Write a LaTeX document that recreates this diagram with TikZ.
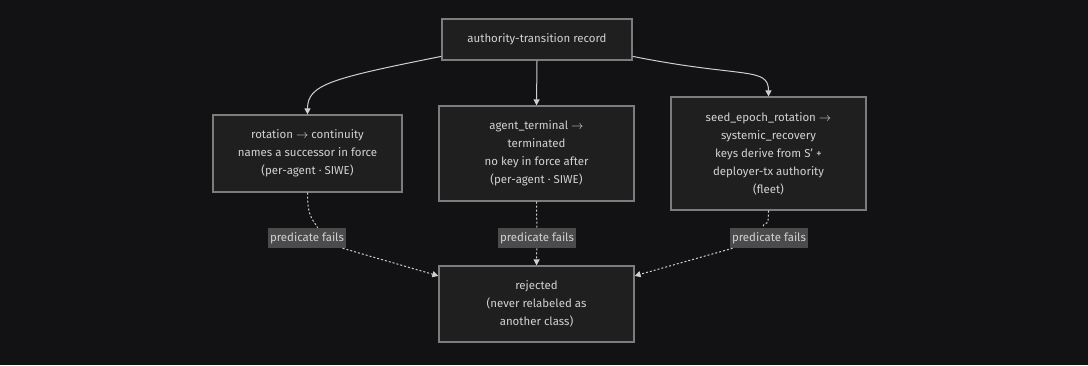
\documentclass[tikz,border=0pt]{standalone}
\usepackage{fontspec}
\setmainfont{Fira Sans}
\usetikzlibrary{arrows.meta}
\definecolor{bgdark}{HTML}{121214}
\definecolor{boxfill}{HTML}{1F1F1F}
\definecolor{boxline}{HTML}{7C7C7C}
\definecolor{inktext}{HTML}{D2D2D2}
\definecolor{edgeink}{HTML}{CFCFCF}
\definecolor{lblfill}{HTML}{4B4B4B}
\newcommand{\goesto}{$\rightarrow$}

\begin{document}
\begin{tikzpicture}[x=0.75pt,y=-0.75pt,>={Triangle[length=4.5pt,width=4.5pt]},
    state/.style={draw=boxline,fill=boxfill,line width=0.9pt,text=inktext,
      align=center,font=\fontsize{8.6}{13.5}\selectfont,inner sep=0pt},
    flow/.style={->,draw=edgeink,line width=0.75pt},
    failflow/.style={flow,dash pattern=on 1.5pt off 1.5pt},
    faillabel/.style={fill=lblfill,text=inktext,inner sep=1.5pt,
      font=\fontsize{8.6}{10}\selectfont,minimum height=15pt}]
  \fill[bgdark] (0,0) rectangle (1088,365);
  \useasboundingbox (0,0) rectangle (1088,365);

  \node[state,minimum width=142.5pt,minimum height=30.75pt] (record) at (537,39.5)
       {authority-transition record};
  \node[state,minimum width=141.75pt,minimum height=57.75pt] (rot) at (307.5,153.5)
       {rotation \goesto{} continuity\\names a successor in force\\(per-agent · SIWE)};
  \node[state,minimum width=146.25pt,minimum height=71.25pt] (term) at (536.5,153.5)
       {agent\_terminal \goesto\\terminated\\no key in force after\\(per-agent · SIWE)};
  \node[state,minimum width=146.25pt,minimum height=84.75pt] (seed) at (768.5,153.5)
       {seed\_epoch\_rotation \goesto\\systemic\_recovery\\keys derive from S' +\\deployer-tx authority\\(fleet)};
  \node[state,minimum width=146.25pt,minimum height=57pt] (rej) at (536.5,304)
       {rejected\\(never relabeled as\\another class)};

  \node[faillabel] (fail1) at (307,238) {predicate fails};
  \node[faillabel] (fail2) at (537,238) {predicate fails};
  \node[faillabel] (fail3) at (769,238) {predicate fails};

  \draw[flow] (record.190) .. controls +(-110,22) and +(0,-30) .. (rot.north);
  \draw[flow] (record.south) -- (term.north);
  \draw[flow] (record.-10) .. controls +(110,22) and +(0,-30) .. (seed.north);

  \draw[failflow,-] (rot.south) .. controls +(0,24) and +(-6,-10) .. ([xshift=8pt]fail1.north);
  \draw[failflow] (fail1) -- (rej.164);
  \draw[failflow,-] (term.south) -- (fail2);
  \draw[failflow] (fail2) -- (rej.north);
  \draw[failflow,-] (seed.south) .. controls +(0,20) and +(4,-10) .. ([xshift=-5pt]fail3.north);
  \draw[failflow] (fail3) -- (rej.16);
\end{tikzpicture}
\end{document}
